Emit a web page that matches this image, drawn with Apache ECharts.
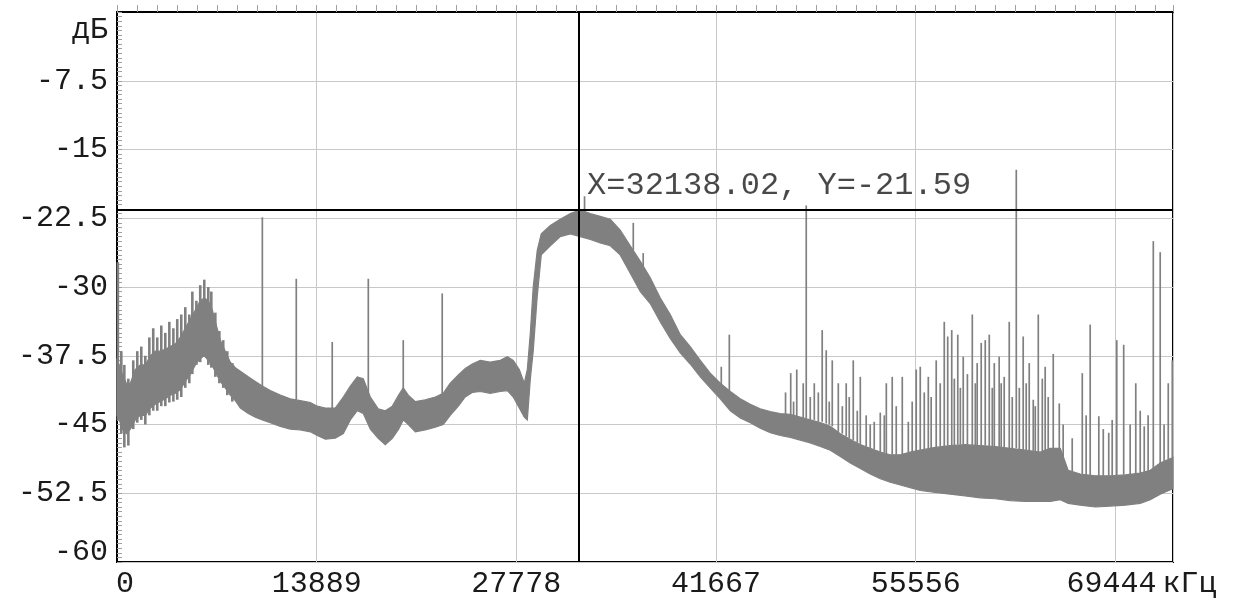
<!DOCTYPE html>
<html><head><meta charset="utf-8">
<script src="https://cdn.jsdelivr.net/npm/echarts@6/dist/echarts.min.js"></script>
<style>html,body{margin:0;padding:0;background:#fff}#chart{width:1240px;height:600px}</style>
</head><body><div id="chart"></div>
<script>
// ---- data (kHz / dB) ----
// solid core of the noise band: frequency, upper edge, lower edge
const bandFreq = [0,160,370,650,930,1270,1620,1970,2320,2660,
  3010,3360,3710,4060,4400,4750,5100,5450,5790,6070,
  6350,6630,6910,7190,7530,7880,8230,8580,9130,9620,
  10110,10660,11360,12050,12750,13450,13930,14490,15180,15740,
  16230,16710,17130,17620,18170,18660,19150,19590,19910,20260,
  20750,21440,22140,22690,23180,23740,24220,24710,25270,25960,
  26660,27150,27560,27980,28330,28540,28750,28950,29230,29510,
  30140,30830,31530,32220,32920,33610,34310,35000,35700,36400,
  37090,37790,38480,39180,39870,40570,41260,41960,42660,43350,
  44050,44740,45440,46130,46830,47520,48220,48920,49610,50310,
  51000,51700,52390,53090,53780,54480,55170,55870,56910,57960,
  59000,60040,61090,62130,63170,64220,64910,65610,66160,67000,
  68040,69080,70130,71170,71870,72560,73450];
const bandHigh = [-38,-38.5,-39.5,-40.5,-40.5,-39,-38.5,-38.5,-37.5,-37,
  -37,-36.8,-36.5,-36.2,-35.5,-34.5,-33.5,-32.5,-31.5,-31.2,
  -31.5,-32.5,-34.2,-35.8,-37,-38.2,-38.8,-39.2,-39.8,-40.3,
  -40.8,-41.3,-41.8,-42.2,-42.4,-42.6,-43,-43.2,-43.2,-42,
  -40.8,-39.8,-40,-42,-43.3,-43.5,-43,-41.8,-41,-41.8,
  -42.5,-42.3,-42,-41.6,-40.5,-39.6,-38.9,-38.4,-38,-38.2,
  -38,-37.6,-38,-39,-40.5,-39,-35,-30,-26,-24.2,
  -23.3,-22.6,-22,-21.6,-22,-22.3,-22.6,-23.8,-25.5,-27.2,
  -29,-31.2,-33,-35.2,-36.5,-38,-39.4,-40.5,-41.4,-42.2,
  -42.8,-43.3,-43.6,-43.8,-43.9,-44.2,-44.5,-44.8,-45.2,-46,
  -46.6,-47.2,-47.6,-48,-48.3,-48.3,-48,-47.8,-47.5,-47.3,
  -47.2,-47.3,-47.4,-47.6,-47.8,-48,-47.6,-47.6,-50,-50.4,
  -50.6,-50.6,-50.5,-50.3,-50,-49.2,-48.6];
const bandLow = [-44,-44.5,-45.5,-46,-45.5,-44.5,-44,-44,-43.2,-42.8,
  -42.5,-42.2,-41.8,-41.6,-41.2,-40.3,-39.5,-38.5,-37.8,-37.5,
  -38,-38.6,-39.5,-40.3,-41,-41.8,-42.4,-43.2,-43.8,-44.2,
  -44.5,-44.8,-45.2,-45.5,-45.6,-45.8,-46.2,-46.6,-46.5,-46,
  -44.5,-43.5,-43.8,-45.5,-46.5,-47.2,-46.5,-45.5,-44.5,-45,
  -45.8,-45.6,-45.3,-45,-44,-43,-42,-41.5,-41.4,-41.6,
  -41.4,-41.3,-42,-43.2,-44.2,-44.5,-40,-37,-31,-26.5,
  -25.5,-24.5,-24.2,-24.5,-24.8,-25.2,-25.5,-26.5,-28.5,-30.5,
  -31.8,-33.8,-35.6,-37.2,-38.4,-39.8,-41,-42.2,-43.5,-44.3,
  -44.8,-45.4,-45.9,-46.2,-46.4,-46.7,-47,-47.4,-47.8,-48.5,
  -49.2,-49.8,-50.4,-50.9,-51.3,-51.6,-51.9,-52.2,-52.4,-52.6,
  -52.8,-53,-53.1,-53.3,-53.4,-53.4,-53.4,-53.2,-53.6,-53.8,
  -54,-53.9,-53.8,-53.6,-53.2,-52.6,-52];

// strong low-frequency oscillation strokes: frequency, top, bottom
const strokeFreq = [60,300,510,790,1130,1410,1690,1970,2250,2520,
  2800,3080,3360,3640,3920,4190,4470,4750,5030,5240,
  5520,5790,6070,6350,6560,6840,7120,7390,7670,8020];
const strokeTop = [-27.3,-37,-38.5,-40,-38,-37,-36.5,-37.5,-35.5,-34.5,
  -35.5,-34.2,-35,-33.8,-34.5,-33.5,-33,-32.2,-33,-30.5,
  -31.5,-29.8,-29.2,-30,-30.5,-32.8,-34.8,-35.8,-37,-38.3];
const strokeBase = [-44.5,-46,-47.5,-47.3,-45.5,-44.8,-44.5,-45,-44,-43.5,
  -43.5,-43,-43,-42.6,-42.5,-42.3,-42,-41,-40.5,-39.5,
  -38.5,-38.2,-37.6,-38.5,-38.8,-39.8,-40.5,-41,-41.8,-42.5];

// spectral lines: frequency, top, bottom
const spikeFreq = [10110,12470,14970,17480,19910,22620,32520,35910,36600,42030,
  42590,46500,46860,47060,47280,47730,47940,48220,48500,48780,
  49050,49330,49540,49750,50170,50450,50720,50930,51210,51490,
  51700,52110,52390,52670,53090,53370,53510,53920,54200,54620,
  55040,55310,55590,55870,56150,56430,56630,56980,57260,57540,
  57780,58060,58240,58480,58660,58860,59150,59490,59700,59830,
  60110,60390,60670,60880,61020,61360,61500,61710,62060,62270,
  62550,62760,63030,63240,63450,63730,63870,64080,64360,64560,
  64770,65120,65540,65810,66440,67140,67410,67690,68290,68600,
  68980,69220,69540,70020,70470,70860,71170,71450,71720,72080,
  72560,72830,73120,73400];
const spikeTop = [-22.4,-29.1,-36,-29.1,-35.8,-30.7,-20.1,-23,-26.3,-38.7,
  -35.2,-41.5,-39.4,-42.5,-39,-40.5,-21.1,-42,-40.5,-41.5,
  -34.7,-36.9,-42.5,-38,-40.5,-43,-40.5,-42,-38,-43.5,
  -39.8,-44,-45,-44.7,-43.7,-44,-40.5,-39.8,-43,-39.8,
  -44.7,-42.5,-39,-38.7,-41.5,-39.8,-42,-38,-40.5,-33.8,
  -35.4,-34.7,-40,-35.2,-41,-37.6,-39.5,-33,-40.5,-38.3,
  -36.1,-35.8,-35.2,-41,-38.3,-37.6,-40.5,-39.8,-33.8,-42,
  -17.2,-41,-35.4,-40.5,-38.3,-42.3,-43,-33,-40,-38.7,
  -42,-37.3,-42.7,-45,-46.5,-39.4,-44,-34.1,-44.1,-45.5,
  -45.9,-44.5,-35.8,-36.3,-45,-40.5,-43.5,-45.2,-44,-25,
  -26.2,-45,-40.5,-38];
const spikeBase = [-41,-42.3,-43.2,-41.5,-41.5,-41.8,-22.5,-26,-28.5,-41,
  -41.5,-44,-44,-44.2,-44.2,-44.3,-44.3,-44.5,-44.5,-44.7,
  -44.7,-44.9,-45,-45.2,-45.8,-46,-46.3,-46.5,-46.7,-47,
  -47.2,-47.4,-47.6,-47.7,-48,-48.1,-48.2,-48.3,-48.3,-48.3,
  -48,-48,-47.9,-47.8,-47.7,-47.6,-47.6,-47.5,-47.4,-47.4,
  -47.3,-47.3,-47.3,-47.2,-47.2,-47.2,-47.2,-47.3,-47.3,-47.3,
  -47.3,-47.3,-47.4,-47.4,-47.4,-47.5,-47.5,-47.5,-47.6,-47.6,
  -47.6,-47.7,-47.8,-47.8,-47.9,-48,-48,-48.1,-48,-48,
  -48,-47.6,-47.6,-50,-50.4,-50.4,-50.5,-50.5,-50.6,-50.6,
  -50.6,-50.6,-50.6,-50.5,-50.5,-50.4,-50.3,-50.2,-50.1,-50,
  -49.2,-49,-48.8,-48.6];

const xTickLabels = ['0','13889','27778','41667','55556','69444'];
const yTickLabels = ['-60','-52.5','-45','-37.5','-30','-22.5','-15','-7.5','дБ'];
const xUnit = 'кГц';
const cursorX = 32138.02;
const cursorY = -21.59;

// ---- chart ----
const FONT = 'Liberation Mono';
const TXT = '#1a1a1a';
const FS = 30;
const X_MIN = 0, X_MAX = 73450, X_STEP = 125000 / 9;
const Y_MIN = -60, Y_MAX = 0, Y_STEP = 7.5;
const GREY = '#808080';

const chart = echarts.init(document.getElementById('chart'), null, {renderer: 'canvas'});

function vLine(width) {
  return (params, api) => {
    const a = api.coord([api.value(0), api.value(1)]);
    const b = api.coord([api.value(0), api.value(2)]);
    return {type: 'line', shape: {x1: a[0], y1: a[1], x2: b[0], y2: b[1]},
            style: {stroke: GREY, lineWidth: width}};
  };
}

const option = {
  animation: false,
  backgroundColor: '#ffffff',
  grid: {left: 117, right: 67, top: 12, bottom: 38, show: true,
         borderColor: '#000', borderWidth: 2, backgroundColor: 'transparent'},
  xAxis: [{
    type: 'value', min: X_MIN, max: X_MAX, interval: X_STEP,
    axisLine: {lineStyle: {color: '#000', width: 2}},
    axisTick: {show: false},
    splitLine: {show: true, lineStyle: {color: '#c8c8c8', width: 1}},
    axisLabel: {
      showMaxLabel: false, margin: 7, fontFamily: FONT, fontSize: FS, color: TXT,
      formatter: v => {
        const i = Math.round((v - X_MIN) / X_STEP);
        if (i === 0) return '{z|' + xTickLabels[0] + '}';
        if (i === xTickLabels.length - 1) return '{p|' + xTickLabels[i] + '}{u|' + xUnit + '}';
        return xTickLabels[i] || '';
      },
      rich: {
        z: {fontFamily: FONT, fontSize: FS, color: TXT, padding: [0, 0, 0, 16]},
        p: {fontFamily: FONT, fontSize: FS, color: TXT, padding: [0, 0, 0, 52]},
        u: {fontFamily: FONT, fontSize: FS, color: TXT, padding: [0, 0, 0, 6]}
      }
    }
  }, {
    type: 'value', min: X_MIN, max: X_MAX, interval: X_STEP / 10, position: 'bottom',
    axisLine: {show: false}, axisLabel: {show: false}, splitLine: {show: false},
    axisTick: {show: true, inside: true, length: 7, lineStyle: {color: '#a0a0a0', width: 1}}
  }],
  yAxis: [{
    type: 'value', min: Y_MIN, max: Y_MAX, interval: Y_STEP,
    axisLine: {show: true, lineStyle: {color: '#000', width: 2}},
    axisTick: {show: false},
    splitLine: {show: true, lineStyle: {color: '#c8c8c8', width: 1}},
    axisLabel: {
      margin: 9, fontFamily: FONT, fontSize: FS, color: TXT,
      formatter: v => {
        const i = Math.round((v - Y_MIN) / Y_STEP);
        if (i === 0) return '{b|' + yTickLabels[0] + '}';
        if (i === yTickLabels.length - 1) return '{t|' + yTickLabels[i] + '}';
        return yTickLabels[i] || '';
      },
      rich: {
        b: {fontFamily: FONT, fontSize: FS, color: TXT, padding: [0, 0, 20, 0]},
        t: {fontFamily: FONT, fontSize: FS, color: TXT, padding: [36, 0, 0, 0]}
      }
    }
  }, {
    type: 'value', min: Y_MIN, max: Y_MAX, interval: 0.5, position: 'left',
    axisLine: {show: false}, axisLabel: {show: false}, splitLine: {show: false},
    axisTick: {show: true, inside: true, length: 5, lineStyle: {color: '#a0a0a0', width: 1}}
  }],
  series: [{
    type: 'custom', name: 'band', xAxisIndex: 0, yAxisIndex: 0,
    data: bandFreq.map((f, i) => [f, bandLow[i], bandHigh[i]]),
    encode: {x: 0, y: [1, 2]},
    renderItem: (params, api) => {
      if (params.dataIndex !== 0) return null;
      const top = [], bot = [];
      for (let i = 0; i < bandFreq.length; i++) {
        top.push(api.coord([bandFreq[i], bandHigh[i]]));
        bot.push(api.coord([bandFreq[i], bandLow[i]]));
      }
      return {type: 'polygon', shape: {points: top.concat(bot.reverse())},
              style: {fill: GREY, stroke: GREY, lineWidth: 1.2}};
    }
  }, {
    type: 'custom', name: 'strokes', xAxisIndex: 0, yAxisIndex: 0,
    data: strokeFreq.map((f, i) => [f, strokeBase[i], strokeTop[i]]),
    encode: {x: 0, y: [1, 2]},
    renderItem: vLine(2.6)
  }, {
    type: 'custom', name: 'spikes', xAxisIndex: 0, yAxisIndex: 0,
    data: spikeFreq.map((f, i) => [f, spikeBase[i], spikeTop[i]]),
    encode: {x: 0, y: [1, 2]},
    renderItem: vLine(1.7)
  }, {
    type: 'scatter', name: 'cursor', xAxisIndex: 0, yAxisIndex: 0, z: 5,
    data: [[cursorX, cursorY]], symbolSize: 0, silent: true,
    label: {show: true, position: 'right', distance: 8, offset: [0, -24],
            fontFamily: FONT, fontSize: 32, color: TXT,
            formatter: () => 'X=' + cursorX.toFixed(2) + ', Y=' + cursorY.toFixed(2)},
    markLine: {silent: true, symbol: ['none', 'none'], animation: false,
               lineStyle: {color: '#000', width: 2, type: 'solid'},
               label: {show: false},
               data: [{xAxis: cursorX}, {yAxis: cursorY}]}
  }]
};
chart.setOption(option);
</script>
</body></html>
